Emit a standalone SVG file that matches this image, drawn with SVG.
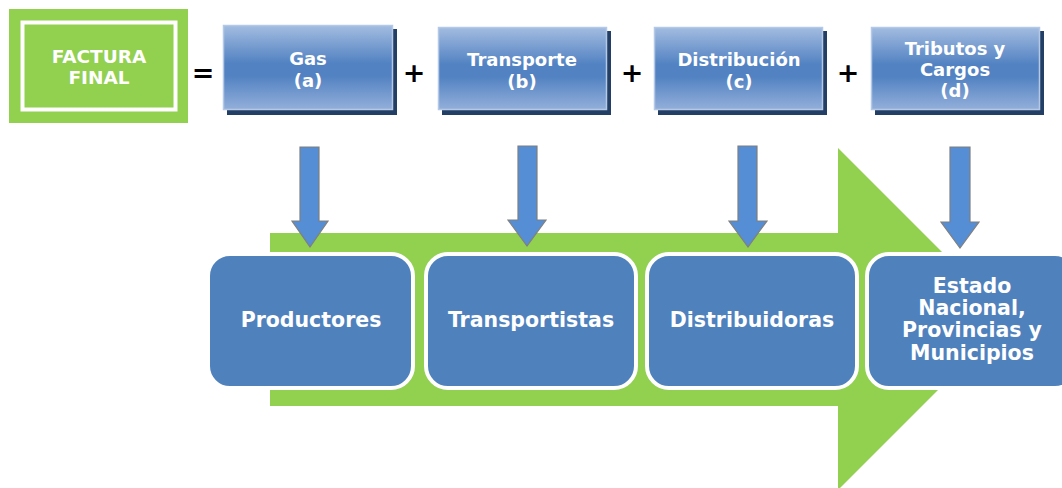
<svg xmlns="http://www.w3.org/2000/svg" width="1062" height="488" viewBox="0 0 1062 488">
<defs>
<linearGradient id="topg" x1="0" y1="0" x2="0" y2="1">
<stop offset="0" stop-color="#a3bce0"/>
<stop offset="0.45" stop-color="#5282c2"/>
<stop offset="0.6" stop-color="#5282c2"/>
<stop offset="1" stop-color="#93afda"/>
</linearGradient>
<style>
.t{font-family:"DejaVu Sans","Liberation Sans",sans-serif;font-weight:bold;fill:#ffffff;text-anchor:middle}
.top{font-size:18px}
.bot{font-size:20.5px}
.op{font-family:"DejaVu Sans","Liberation Sans",sans-serif;font-weight:bold;font-size:27px;fill:#000;text-anchor:middle}
.shadow{fill:#243f66}
.tbox{fill:url(#topg);stroke:#b5c9e6;stroke-width:1.5}
.bbox{fill:#4f81bd;stroke:#ffffff;stroke-width:4}
.darr{fill:#558ed5;stroke:#7f7f7f;stroke-width:1.2}
</style>
</defs>
<rect width="1062" height="488" fill="#ffffff"/>

<g id="factura">
<rect x="9" y="9" width="179" height="114" fill="#92d050"/>
<rect x="22.5" y="22.5" width="153" height="87" fill="none" stroke="#ffffff" stroke-width="4"/>
<text class="t" x="99" y="63" font-size="18.5">FACTURA</text>
<text class="t" x="99" y="84" font-size="18.5">FINAL</text>
</g>

<g id="operators">
<text class="op" x="203" y="82">=</text>
<text class="op" x="414" y="82">+</text>
<text class="op" x="632" y="82">+</text>
<text class="op" x="848" y="82">+</text>
</g>

<g id="gas">
<rect class="shadow" x="227" y="29" width="170" height="86"/>
<rect class="tbox" x="223.5" y="25.5" width="169" height="84"/>
<text class="t top" x="308" y="65">Gas</text>
<text class="t top" x="308" y="87">(a)</text>
</g>
<g id="transporte">
<rect class="shadow" x="442" y="31" width="169" height="84"/>
<rect class="tbox" x="438.5" y="27.5" width="168" height="82"/>
<text class="t top" x="522" y="66">Transporte</text>
<text class="t top" x="522" y="88">(b)</text>
</g>
<g id="distribucion">
<rect class="shadow" x="658" y="31" width="169" height="84"/>
<rect class="tbox" x="654.5" y="27.5" width="168" height="82"/>
<text class="t top" x="739" y="66">Distribución</text>
<text class="t top" x="739" y="88">(c)</text>
</g>
<g id="tributos">
<rect class="shadow" x="875" y="31" width="169" height="84"/>
<rect class="tbox" x="871.5" y="27.5" width="168" height="82"/>
<text class="t top" x="955" y="55">Tributos y</text>
<text class="t top" x="955" y="76">Cargos</text>
<text class="t top" x="955" y="97">(d)</text>
</g>

<g id="flow-arrow">
<polygon points="270,233 838,233 838,148 1009,319 838,490 838,406 270,406" fill="#92d050"/>
</g>

<g id="productores">
<rect class="bbox" x="208" y="254" width="205" height="134" rx="22"/>
<text class="t bot" x="311" y="327">Productores</text>
</g>
<g id="transportistas">
<rect class="bbox" x="426" y="254" width="210" height="134" rx="22"/>
<text class="t bot" x="531" y="327">Transportistas</text>
</g>
<g id="distribuidoras">
<rect class="bbox" x="647" y="254" width="210" height="134" rx="22"/>
<text class="t bot" x="752" y="327">Distribuidoras</text>
</g>
<g id="estado">
<rect class="bbox" x="867" y="254" width="210" height="134" rx="22"/>
<text class="t bot" x="972" y="293">Estado</text>
<text class="t bot" x="972" y="315">Nacional,</text>
<text class="t bot" x="972" y="337">Provincias y</text>
<text class="t bot" x="972" y="360">Municipios</text>
</g>

<g id="connectors">
<polygon class="darr" points="300,147 319,147 319,221 328,221 310,247 292,221 300,221"/>
<polygon class="darr" points="518,146 537,146 537,220 546,220 527,246 508,220 518,220"/>
<polygon class="darr" points="738,146 757,146 757,221 767,221 748,247 729,221 738,221"/>
<polygon class="darr" points="950,147 970,147 970,222 979,222 960,248 941,222 950,222"/>
</g>
</svg>
